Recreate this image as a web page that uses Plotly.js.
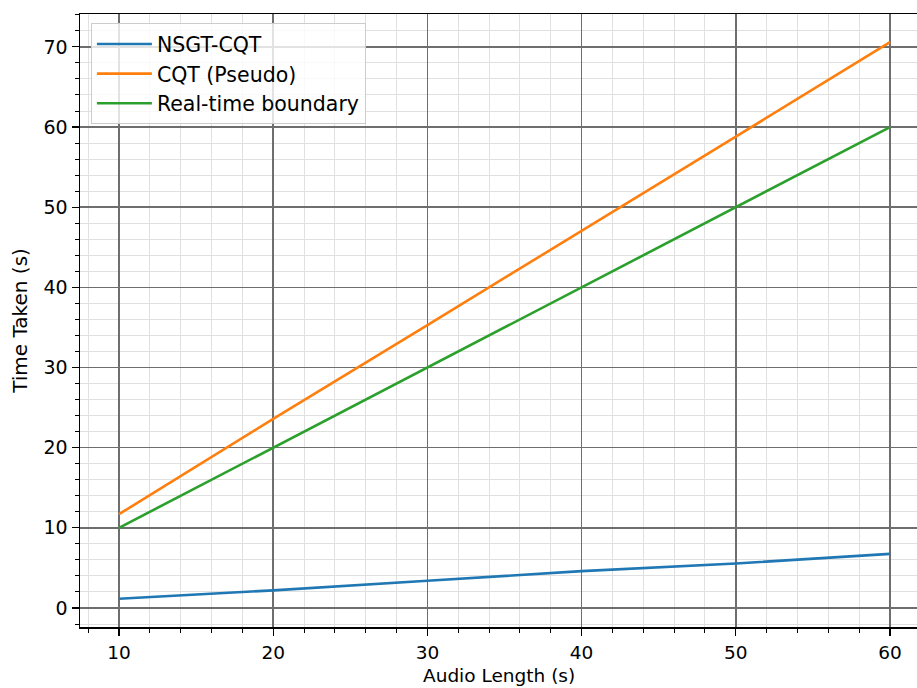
<!DOCTYPE html>
<html>
<head>
<meta charset="utf-8">
<script src="https://cdn.plot.ly/plotly-3.0.1.min.js"></script>
<style>html,body{margin:0;padding:0;background:#fff}#chart{width:917px;height:688px}</style>
</head>
<body>
<div id="chart"></div>
<script>
const audioLength = [10, 20, 30, 40, 50, 60];
const nsgtCqt = [1.15, 2.2, 3.4, 4.6, 5.55, 6.75];
const cqtPseudo = [11.7, 23.6, 35.3, 47.0, 58.8, 70.6];
const realTime = [10, 20, 30, 40, 50, 60];
const seriesNames = ["NSGT-CQT", "CQT (Pseudo)", "Real-time boundary"];
const xTicks = [10, 20, 30, 40, 50, 60];
const yTicks = [0, 10, 20, 30, 40, 50, 60, 70];
const xTitle = "Audio Length (s)";
const yTitle = "Time Taken (s)";

const colors = ["#1f77b4", "#ff7f0e", "#2ca02c"];
const ys = [nsgtCqt, cqtPseudo, realTime];
const traces = ys.map((y, i) => ({
  x: audioLength, y: y, name: seriesNames[i], mode: "lines", type: "scatter",
  line: {color: colors[i], width: 2.6}
}));

const font = {family: "DejaVu Sans", size: 19, color: "#000"};
const xfont = {family: "DejaVu Sans", size: 18.5, color: "#000"};
const layout = {
  width: 917, height: 688,
  margin: {l: 80, r: 0, t: 14, b: 61, pad: 0},
  paper_bgcolor: "#fff", plot_bgcolor: "#fff",
  font: font,
  showlegend: true,
  legend: {x: 0.013, y: 0.985, xanchor: "left", yanchor: "top",
    bgcolor: "rgba(255,255,255,0.8)", bordercolor: "#cccccc", borderwidth: 1,
    itemwidth: 55,
    font: {family: "DejaVu Sans", size: 20.5, color: "#000"}},
  annotations: [{text: xTitle, xref: "paper", yref: "paper", x: 0.5, y: 0,
    xanchor: "center", yanchor: "middle", yshift: -48.5, showarrow: false, borderpad: 0,
    font: {family: "DejaVu Sans", size: 18.5, color: "#000"}}],
  xaxis: {
    range: [7.47, 61.75], tickvals: xTicks, ticktext: xTicks.map(String),
    showgrid: true, gridcolor: "#6e6e6e", gridwidth: 1.5,
    zeroline: false, showline: true, linecolor: "#000", linewidth: 1.5, mirror: true,
    ticks: "outside", ticklen: 7, tickwidth: 1.2, tickcolor: "#000",
    ticklabelstandoff: 1, automargin: false,
    minor: {dtick: 2, tick0: 0, showgrid: true, gridcolor: "#e0e0e0", gridwidth: 1,
      ticks: "outside", ticklen: 4, tickcolor: "#000", tickwidth: 1},
    tickfont: xfont
  },
  yaxis: {
    range: [-2.37, 74.1], tickvals: yTicks, ticktext: yTicks.map(String),
    showgrid: true, gridcolor: "#6e6e6e", gridwidth: 1.5,
    zeroline: false, showline: true, linecolor: "#000", linewidth: 1.5,
    ticks: "outside", ticklen: 7, tickwidth: 1.2, tickcolor: "#000",
    automargin: false,
    minor: {dtick: 2, tick0: 0, showgrid: true, gridcolor: "#e0e0e0", gridwidth: 1,
      ticks: "outside", ticklen: 4, tickcolor: "#000", tickwidth: 1},
    title: {text: yTitle, font: {family: "DejaVu Sans", size: 20, color: "#000"}, standoff: 10},
    tickfont: font
  }
};
Plotly.newPlot("chart", traces, layout, {displayModeBar: false, staticPlot: true});
</script>
</body>
</html>
